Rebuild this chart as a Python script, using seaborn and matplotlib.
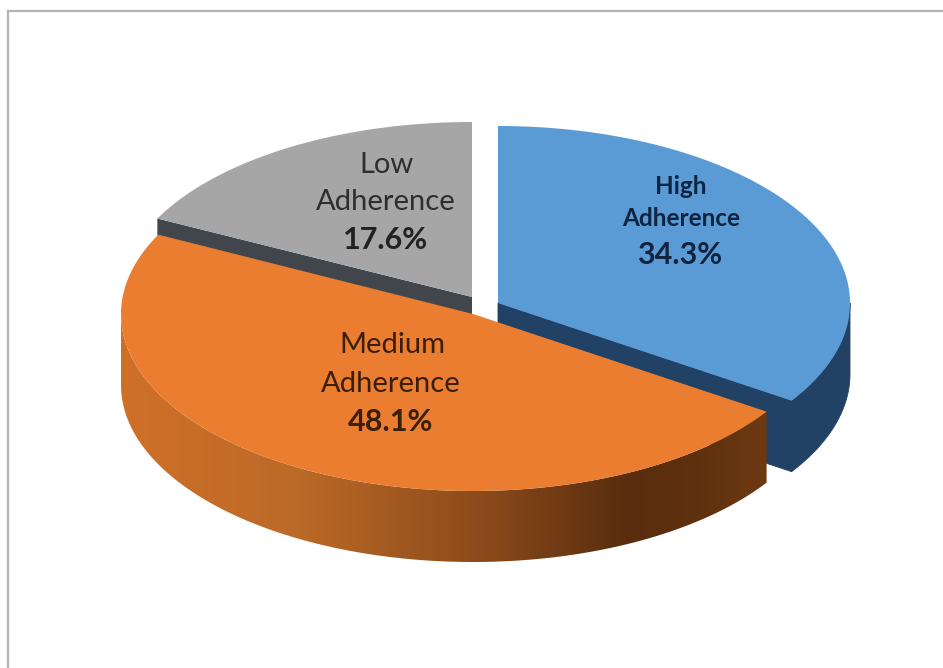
import numpy as np
import matplotlib
matplotlib.use("Agg")
import matplotlib.pyplot as plt
from matplotlib.colors import LinearSegmentedColormap
from matplotlib.patches import Polygon
import seaborn as sns

categories = ["High\nAdherence", "Medium\nAdherence", "Low\nAdherence"]
shares = [34.3, 48.1, 17.6]
top_colors = ["#5B9BD5", "#EA7D30", "#A6A6A6"]
labels = ["34.3%", "48.1%", "17.6%"]

sns.set_theme(style="white")
plt.rcParams["font.family"] = ["Lato", "DejaVu Sans"]

fig = plt.figure(figsize=(9.43, 6.68), dpi=100, facecolor="white")
ax = fig.add_axes([0, 0, 1, 1])
ax.set_xlim(0, 943)
ax.set_ylim(668, 0)
ax.axis("off")

RX, DEPTH = 352, 71
centres = {"blue": (498, 303), "orange": (473, 314), "gray": (472, 297)}
radii_y = {"blue": 177, "orange": 177, "gray": 175}
edges = np.concatenate([[0], np.cumsum(shares)]) * 3.6


def arc(c, ry, a0, a1, dy=0, n=240):
    t = np.radians(np.linspace(a0, a1, n))
    return np.column_stack([c[0] + RX * np.sin(t), c[1] + dy - ry * np.cos(t)])


def wedge(c, ry, a0, a1):
    return np.vstack([[c], arc(c, ry, a0, a1)])


def side(c, ry, a0, a1):
    return np.vstack([arc(c, ry, a0, a1), arc(c, ry, a1, a0, DEPTH)])


def cut(c, ry, a):
    p = arc(c, ry, a, a, n=1)[0]
    return np.array([c, p, p + [0, DEPTH], [c[0], c[1] + DEPTH]])


# Grey slice (farthest back)
c, ry = centres["gray"], radii_y["gray"]
ax.add_patch(Polygon(cut(c, ry, edges[2]), fc="#40464C", ec="none", zorder=1))
ax.add_patch(Polygon(wedge(c, ry, edges[2], edges[3]), fc=top_colors[2], ec="none", zorder=2))

# Blue slice
c, ry = centres["blue"], radii_y["blue"]
ax.add_patch(Polygon(cut(c, ry, edges[1]), fc="#214264", ec="#214264", lw=0.6, zorder=1))
ax.add_patch(Polygon(side(c, ry, 90, edges[1]), fc="#214264", ec="#214264", lw=0.6, zorder=1))
ax.add_patch(Polygon(wedge(c, ry, edges[0], edges[1]), fc=top_colors[0], ec="none", zorder=2))

# Orange slice with shaded rim
c, ry = centres["orange"], radii_y["orange"]
rim = Polygon(side(c, ry, edges[1], 270), fc="none", ec="none", transform=ax.transData)
ax.add_patch(rim)
cmap = LinearSegmentedColormap.from_list(
    "rim",
    [(0.0, "#CF7029"), (0.27, "#BC6A27"), (0.58, "#87481A"),
     (0.78, "#592D0E"), (0.9, "#60310F"), (1.0, "#6E3A12")],
)
img = ax.imshow(np.linspace(0, 1, 512)[None, :], cmap=cmap, aspect="auto",
                extent=(120, 768, 570, 300), zorder=3)
img.set_clip_path(rim)
ax.set_xlim(0, 943)
ax.set_ylim(668, 0)
ax.add_patch(Polygon(wedge(c, ry, edges[1], edges[2]), fc=top_colors[1], ec="none", zorder=4))

# Labels
dark_blue, dark_brown, dark_gray = "#10233F", "#3A1E08", "#2E2E2E"
ax.text(681, 187, "High", ha="center", va="center", fontsize=17.5, weight="bold", color=dark_blue, zorder=6)
ax.text(681, 218, "Adherence", ha="center", va="center", fontsize=17.5, weight="bold", color=dark_blue, zorder=6)
ax.text(680, 255, labels[0], ha="center", va="center", fontsize=22, weight="bold", color=dark_blue, zorder=6)

ax.text(392, 345, "Medium", ha="center", va="center", fontsize=21, color=dark_brown, zorder=6)
ax.text(391, 384, "Adherence", ha="center", va="center", fontsize=21, color=dark_brown, zorder=6)
ax.text(391, 422, labels[1], ha="center", va="center", fontsize=22, weight="bold", color=dark_brown, zorder=6)

ax.text(386, 165, "Low", ha="center", va="center", fontsize=21, color=dark_gray, zorder=6)
ax.text(386, 202, "Adherence", ha="center", va="center", fontsize=21, color=dark_gray, zorder=6)
ax.text(386, 240, labels[2], ha="center", va="center", fontsize=22, weight="bold", color="#222222", zorder=6)

# Screenshot frame
ax.plot([8, 8, 943], [668, 11, 11], color="#B4B4B4", lw=1.6, solid_joinstyle="miter", zorder=7)

fig.savefig("out.png", dpi=100, facecolor="white")
